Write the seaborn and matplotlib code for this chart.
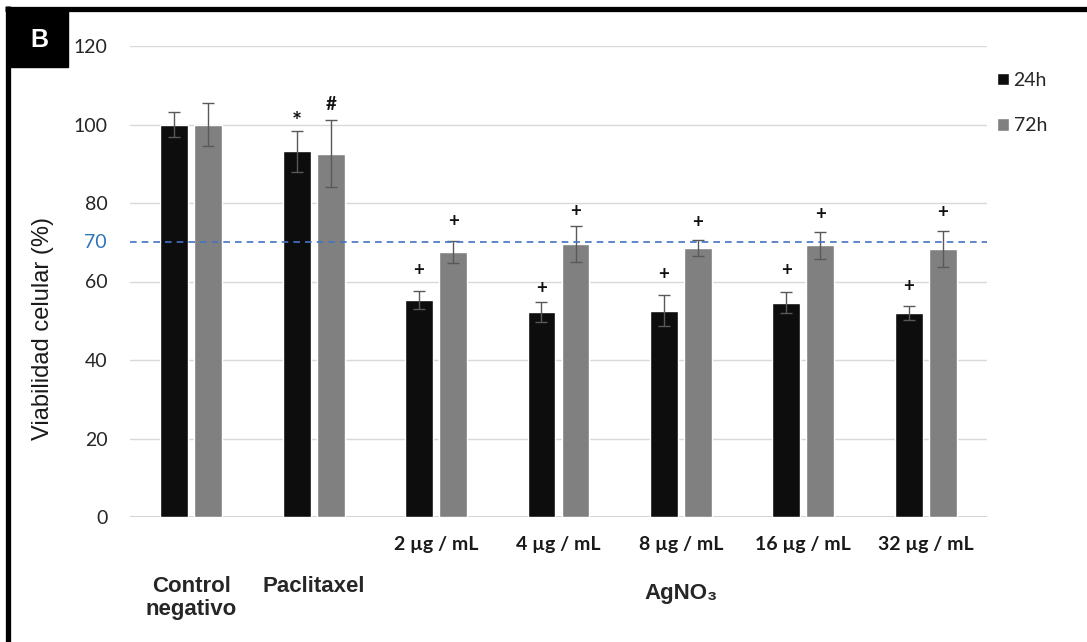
import matplotlib
matplotlib.use("Agg")
import matplotlib.pyplot as plt
from matplotlib.lines import Line2D
from matplotlib.patches import Rectangle
import pandas as pd
import seaborn as sns

# values
categories = ["Control negativo", "Paclitaxel", "2 µg / mL", "4 µg / mL",
              "8 µg / mL", "16 µg / mL", "32 µg / mL"]
tick_labels = ["", "", "2 µg / mL", "4 µg / mL", "8 µg / mL",
               "16 µg / mL", "32 µg / mL"]
times = ["24h", "72h"]
viab_24h = [100.0, 93.2, 55.2, 52.2, 52.6, 54.6, 51.9]
viab_72h = [100.0, 92.6, 67.5, 69.5, 68.6, 69.2, 68.3]
err_24h = [3.2, 5.2, 2.3, 2.5, 4.0, 2.7, 1.8]
err_72h = [5.6, 8.6, 2.7, 4.6, 2.1, 3.4, 4.5]
marks_24h = ["", "*", "+", "+", "+", "+", "+"]
marks_72h = ["", "#", "+", "+", "+", "+", "+"]
marks_24h_y = [0, 100.6, 62.7, 58.3, 61.9, 62.9, 58.8]
marks_72h_y = [0, 105.2, 75.4, 77.8, 75.1, 77.1, 77.5]
threshold = 70

df = pd.DataFrame({
    "categoria": categories * 2,
    "tiempo": [times[0]] * len(categories) + [times[1]] * len(categories),
    "viabilidad": viab_24h + viab_72h,
})

sns.set_theme(style="white")
plt.rcParams["font.family"] = ["Lato", "DejaVu Sans"]
arial = ["Liberation Sans", "DejaVu Sans"]

W, H = 1087, 642
fig = plt.figure(figsize=(W / 100, H / 100), dpi=100)
ax = fig.add_axes([130 / W, 1 - 517 / H, (987 - 130) / W, (517 - 46) / H])

sns.barplot(data=df, x="categoria", y="viabilidad", hue="tiempo",
            order=categories, hue_order=times,
            palette={"24h": "#0d0d0d", "72h": "#808080"},
            width=0.556, gap=0.18, errorbar=None, saturation=1,
            ax=ax, zorder=2)

# error bars and significance marks on top of each bar
for cont, errs, marks, marks_y in zip(ax.containers, [err_24h, err_72h],
                                      [marks_24h, marks_72h],
                                      [marks_24h_y, marks_72h_y]):
    for bar, e, m, my in zip(cont, errs, marks, marks_y):
        xc = bar.get_x() + bar.get_width() / 2
        ax.errorbar(xc, bar.get_height(), yerr=e, color="#595959",
                    lw=1, capsize=4, capthick=1, zorder=3)
        if m:
            ax.text(xc, my, m, ha="center", va="center",
                    fontsize=17 if m == "*" else 13.5,
                    fontweight="bold", color="#111111")

ax.set_xlim(-0.5, len(categories) - 0.5)
ax.set_ylim(0, 120)
ax.set_yticks([0, 20, 40, 60, 80, 100, 120])
ax.yaxis.grid(True, color="#d9d9d9", lw=1)
ax.set_axisbelow(True)
ax.axhline(0, color="#c8c8c8", lw=1.8, zorder=1)
ax.axhline(threshold, color="#4472C4", lw=1.2, ls=(0, (4, 3)), zorder=4)
ax.text(-23 / 857, threshold, str(threshold), transform=ax.get_yaxis_transform(),
        ha="right", va="center", fontsize=14, color="#2e75b6")
for s in ax.spines.values():
    s.set_visible(False)
ax.tick_params(axis="y", length=0, pad=16, labelsize=14, labelcolor="#262626")
ax.tick_params(axis="x", length=0, pad=14)
ax.set_xticks(range(len(categories)))
ax.set_xticklabels(tick_labels, fontsize=14, fontweight="bold", color="#1a1a1a")
ax.set_xlabel("")
ax.set_ylabel("Viabilidad celular (%)", fontsize=17, family=arial,
              color="#1a1a1a")
ax.yaxis.set_label_coords(-0.089, 0.40)

# group labels under the axis
xt = ax.get_xaxis_transform()
ax.text(0, -0.125, "Control\nnegativo", transform=xt, ha="center", va="top",
        fontsize=16, fontweight="bold", family=arial, linespacing=1.15)
ax.text(1, -0.125, "Paclitaxel", transform=xt, ha="center", va="top",
        fontsize=16, fontweight="bold", family=arial)
ax.text(4, -0.14, "AgNO₃", transform=xt, ha="center", va="top",
        fontsize=16, fontweight="bold", family=arial)

leg = ax.legend(loc="upper left", bbox_to_anchor=(997 / W, 1 - 72 / H),
                bbox_transform=fig.transFigure, frameon=False, fontsize=14,
                handlelength=0.6, handleheight=0.6, handletextpad=0.25,
                labelspacing=1.45, borderpad=0, borderaxespad=0, title=None)

# panel frame and "B" tag
fig.add_artist(Line2D([7.5 / W, 7.5 / W], [0, 1 - 6 / H], color="black",
                      lw=3.8, solid_capstyle="butt", transform=fig.transFigure))
fig.add_artist(Line2D([5 / W, 1], [1 - 8.5 / H, 1 - 8.5 / H], color="black",
                      lw=3.8, solid_capstyle="butt", transform=fig.transFigure))
fig.add_artist(Rectangle((9 / W, 1 - 67 / H), 59 / W, 57 / H,
                         color="black", transform=fig.transFigure))
fig.text(39 / W, 1 - 40 / H, "B", color="white", fontsize=18,
         fontweight="bold", family=arial, ha="center", va="center")

fig.savefig("out.png", dpi=100)
plt.close(fig)
